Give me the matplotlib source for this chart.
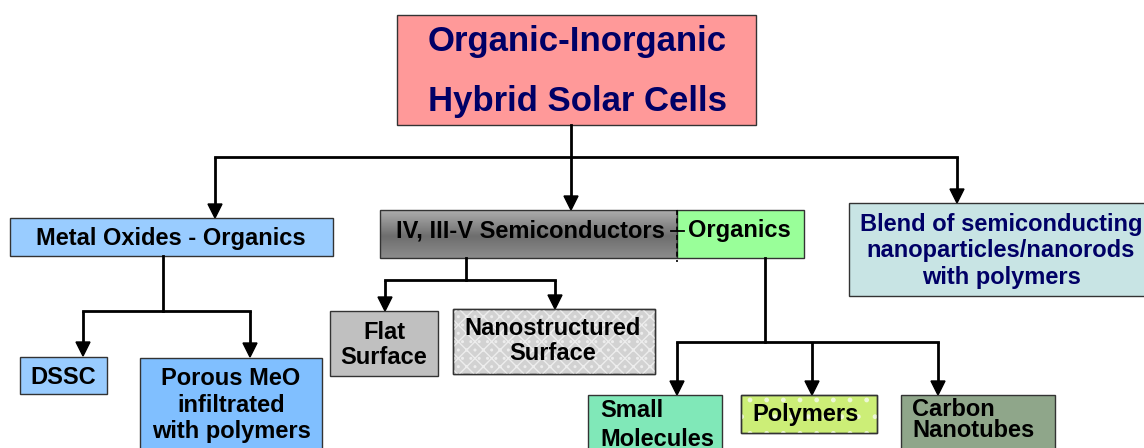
import numpy as np
import matplotlib.pyplot as plt
from matplotlib.patches import Rectangle, Polygon

plt.rcParams['font.family'] = ['Liberation Sans', 'DejaVu Sans']

# teks kotak
judul = ['Organic-Inorganic', 'Hybrid Solar Cells']
cabang = ['Metal Oxides - Organics', 'IV, III-V Semiconductors', 'Organics',
          'Blend of semiconducting\nnanoparticles/nanorods\nwith polymers']
sub_mo = ['DSSC', 'Porous MeO\ninfiltrated\nwith polymers']
sub_sc = ['Flat\nSurface', 'Nanostructured\nSurface']
sub_org = ['Small\nMolecules', 'Polymers', 'Carbon\nNanotubes']

W, H = 1144, 448
fig = plt.figure(figsize=(W / 100, H / 100), dpi=100)
ax = fig.add_axes([0, 0, 1, 1])
ax.set_xlim(0, W)
ax.set_ylim(H, 0)
ax.axis('off')

navy = '#000066'
FS = 17


def kotak(x0, y0, x1, y1, warna, **kw):
    r = Rectangle((x0, y0), x1 - x0, y1 - y0, facecolor=warna,
                  edgecolor='#333333', linewidth=1.0, **kw)
    ax.add_patch(r)
    return r


def tulis(x, y, s, size=FS, color='black', ha='center', ls=1.15):
    ax.text(x, y, s, ha=ha, va='center', fontsize=size, fontweight='bold',
            color=color, linespacing=ls, zorder=5)


def panah(x, y0, y1):
    ax.plot([x, x], [y0, y1 - 12], color='black', lw=2, solid_capstyle='butt')
    ax.add_patch(Polygon([[x - 7, y1 - 14], [x + 7, y1 - 14], [x, y1]],
                         closed=True, color='black'))


def garis(xs, ys):
    ax.plot(xs, ys, color='black', lw=2, solid_capstyle='projecting')


# judul
kotak(397, 15, 756, 125, '#FF9999')
tulis(577, 42, judul[0], size=25, color=navy)
tulis(577, 101, judul[1], size=25, color=navy)

# cabang utama
garis([571, 571], [125, 157])
garis([215, 957], [157, 157])
panah(215, 157, 218)
panah(571, 157, 210)
panah(957, 157, 203)

# Metal oxides
kotak(10, 218, 333, 256, '#99CCFF')
tulis(171, 238, cabang[0])
garis([163, 163], [256, 311])
garis([83, 250], [311, 311])
panah(83, 311, 356)
panah(250, 311, 357)
kotak(20, 357, 107, 394, '#99CCFF')
tulis(63, 377, sub_mo[0])
kotak(140, 358, 322, 460, '#80BFFF')
tulis(231, 405, sub_mo[1], ls=1.2)

# semikonduktor - organik
grad = np.interp(np.linspace(0, 1, 64), [0, 0.55, 1], [0.68, 0.43, 0.55])
grad = np.repeat(grad[:, None], 2, axis=1)
im = ax.imshow(grad, cmap='gray', vmin=0, vmax=1, extent=(380, 677, 258, 210),
               aspect='auto', zorder=1)
bingkai = kotak(380, 210, 677, 258, 'none', zorder=2)
im.set_clip_path(bingkai)
kotak(677, 210, 804, 258, '#99FF99', zorder=2)
ax.plot([677, 677], [210, 262], color='black', lw=1.2, ls=(0, (3, 2)), zorder=3)
tulis(665, 231, cabang[1], ha='right')
ax.plot([671, 684], [231, 231], color='black', lw=1.3, zorder=3)
tulis(688, 231, cabang[2], ha='left')

garis([466, 466], [258, 280])
garis([385, 555], [280, 280])
panah(385, 280, 311)
panah(555, 280, 309)
kotak(330, 311, 438, 376, '#C0C0C0')
tulis(384, 345, sub_sc[0], ls=1.15)
kotak(453, 309, 655, 374, '#D2D2D2')
ax.add_patch(Rectangle((453, 309), 202, 65, fill=False, hatch='xx..',
                       edgecolor='#EDEDED', linewidth=0))
kotak(453, 309, 655, 374, 'none')
tulis(553, 341, sub_sc[1], ls=1.15)

garis([765, 765], [258, 342])
garis([677, 938], [342, 342])
panah(677, 342, 395)
panah(812, 342, 395)
panah(938, 342, 395)

kotak(588, 395, 722, 460, '#80E8B8')
tulis(600, 425, sub_org[0], ha='left', ls=1.3)
kotak(741, 395, 877, 433, '#CCEE77')
ax.add_patch(Rectangle((741, 395), 136, 38, fill=False, hatch='.',
                       edgecolor='#EEF8D8', linewidth=0))
kotak(741, 395, 877, 433, 'none')
tulis(806, 415, sub_org[1])
kotak(901, 395, 1055, 460, '#8FA68A')
tulis(912, 420, sub_org[2], ha='left', ls=0.85)

# blend
kotak(849, 203, 1150, 296, '#C8E4E4')
tulis(1001, 251, cabang[3], color=navy, ls=1.2)

fig.savefig('out.png', dpi=100)
